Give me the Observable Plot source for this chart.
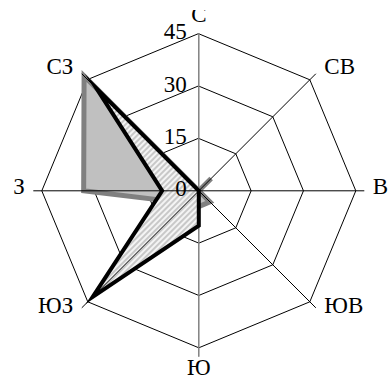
<!DOCTYPE html>
<html><head><meta charset="utf-8">
<script src="https://cdn.jsdelivr.net/npm/d3@7"></script>
<script src="https://cdn.jsdelivr.net/npm/@observablehq/plot@0.6"></script>
<style>
html,body{margin:0;padding:0;background:#fff;}
#chart{padding-top:10px;width:389px;}
</style></head><body><div id="chart"></div>
<script>
// ---- data ----
const directions = ["С", "СВ", "В", "ЮВ", "Ю", "ЮЗ", "З", "СЗ"];
const seriesGray = [0, 5, 0, 4.5, 4.5, 5, 33, 46.5];
const seriesHatched = [0, 0, 0, 0, 10, 43, 10.5, 41.5];
const radialTicks = [0, 15, 30, 45];
const ringValues = [15, 30, 45];
const radialMax = 45;

// ---- layout ----
const W = 389, H = 370, CX = 198.3, CY = 180.3, R = 157;
const k = R / radialMax;
const ang = i => i * Math.PI / 4;
const pt = (v, i) => ({x: v * Math.sin(ang(i)), y: v * Math.cos(ang(i))});

const grayPts = seriesGray.map((v, i) => ({...pt(v, i), dir: directions[i]}));
const hatchPts = seriesHatched.map((v, i) => ({...pt(v, i), dir: directions[i]}));
const rings = ringValues.flatMap(r => directions.map((d, i) => ({...pt(r, i), ring: r})));
const spokeEnd = radialMax + 8.5 / k;
const spokes = directions.map((d, i) => ({i, ...pt(spokeEnd, i)})).filter(d => d.i !== 0 && d.i !== 4);
const axisLine = [pt(radialMax, 0), pt(spokeEnd, 4)];

function labelInfo(i) {
  const s = Math.sin(ang(i)), c = Math.cos(ang(i));
  const eps = 1e-6;
  let anchor, dx, dy;
  if (Math.abs(s) < eps) { anchor = "middle"; dx = 0; dy = c > 0 ? -19 : 20; }
  else {
    anchor = s > 0 ? "start" : "end";
    dx = Math.sign(s) * (Math.abs(c) < eps ? 17 : 14.5);
    dy = Math.abs(c) < eps ? -4.5 : (c > 0 ? -13.5 : 3.7);
  }
  return {label: directions[i], anchor,
          x: radialMax * s + dx / k, y: radialMax * c - dy / k};
}
const labels = directions.map((d, i) => labelInfo(i));

const font = "Liberation Serif, Times New Roman, serif";
const textMark = anchor => Plot.text(labels.filter(d => d.anchor === anchor), {
  x: "x", y: "y", text: "label", textAnchor: anchor, fontSize: 23, fill: "black", fontFamily: font
});

const plot = Plot.plot({
  width: W, height: H, margin: 0,
  x: {domain: [-CX / k, (W - CX) / k], axis: null},
  y: {domain: [-(H - CY) / k, CY / k], axis: null},
  style: {fontFamily: font, fontSize: "23px", overflow: "hidden", background: "white"},
  marks: [
    Plot.line(rings, {x: "x", y: "y", z: "ring", curve: "linear-closed", stroke: "black", strokeWidth: 1}),
    Plot.line(grayPts, {x: "x", y: "y", curve: "linear-closed", fill: "#c0c0c0", stroke: "#808080",
      strokeWidth: 5, strokeLinejoin: "miter", strokeMiterlimit: 20}),
    Plot.line(hatchPts, {x: "x", y: "y", curve: "linear-closed", fill: "url(#hatch)", stroke: "none"}),
    Plot.link(spokes, {x1: 0, y1: 0, x2: "x", y2: "y", stroke: "black", strokeWidth: 1}),
    Plot.line(axisLine, {x: "x", y: "y", stroke: "#808080", strokeWidth: 1.5}),
    Plot.line(hatchPts, {x: "x", y: "y", curve: "linear-closed", fill: "none", stroke: "black",
      strokeWidth: 4, strokeLinejoin: "miter", strokeMiterlimit: 20}),
    Plot.text(radialTicks, {x: 0, y: d => d, text: d => String(d), textAnchor: "end", dx: -12, dy: -2,
      fontSize: 23, fill: "black", fontFamily: font}),
    textMark("middle"), textMark("start"), textMark("end")
  ]
});

const defs = d3.select(plot).insert("defs", ":first-child");
const pat = defs.append("pattern").attr("id", "hatch").attr("patternUnits", "userSpaceOnUse")
  .attr("width", 4).attr("height", 4).attr("patternTransform", "rotate(45)");
pat.append("rect").attr("width", 4).attr("height", 4).attr("fill", "#f4f4f4");
pat.append("rect").attr("width", 2).attr("height", 4).attr("fill", "#c8c8c8");

document.getElementById("chart").appendChild(plot);
</script></body></html>
